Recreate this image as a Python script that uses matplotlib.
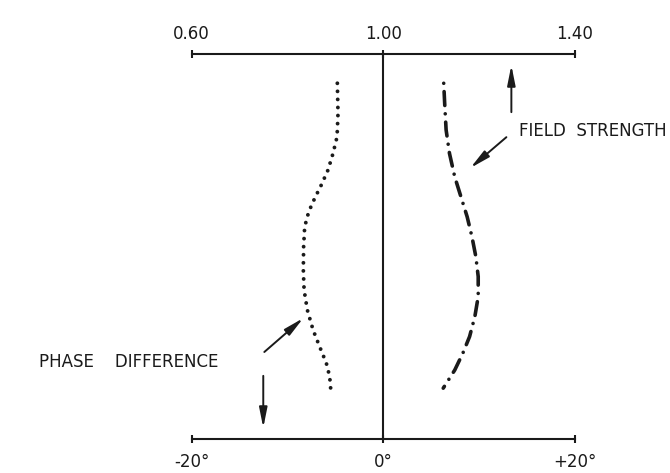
import matplotlib.pyplot as plt

# phase difference curve (degrees) vs relative height
phase_deg = [-4.80, -4.73, -4.83, -5.25, -5.77, -6.47, -7.17, -7.79, -8.21,
             -8.32, -8.35, -8.27, -7.93, -7.33, -6.65, -5.95, -5.60, -5.50]
phase_y = [0.924, 0.846, 0.785, 0.742, 0.699, 0.660, 0.625, 0.590, 0.551,
           0.499, 0.439, 0.387, 0.335, 0.283, 0.240, 0.197, 0.162, 0.132]

# field strength curve (relative) vs relative height
field_val = [1.126, 1.128, 1.131, 1.138, 1.149, 1.163, 1.175, 1.185, 1.193,
             1.198, 1.198, 1.191, 1.180, 1.166, 1.149, 1.125]
field_y = [0.924, 0.872, 0.803, 0.742, 0.681, 0.625, 0.577, 0.525, 0.474,
           0.422, 0.370, 0.318, 0.266, 0.223, 0.179, 0.132]

phase_ticks = [-20, 0, 20]
phase_labels = ['-20°', '0°', '+20°']
field_ticks = [0.60, 1.00, 1.40]
field_labels = ['0.60', '1.00', '1.40']

plt.rcParams['font.family'] = ['DejaVu Sans']
plt.rcParams['lines.scale_dashes'] = False
ink = '#1a1a1a'
fs = 12

fig = plt.figure(figsize=(6.7, 4.73), dpi=100)
ax = fig.add_axes([0.2861, 0.0719, 0.5721, 0.8139])
ax.set_xlim(-20, 20)
ax.set_ylim(0, 1)
ax2 = ax.twiny()
ax2.set_xlim(0.6, 1.4)

for a in (ax, ax2):
    for s in a.spines.values():
        s.set_visible(False)
    a.set_yticks([])
ax.spines['bottom'].set_visible(True)
ax.spines['bottom'].set_linewidth(1.5)
ax.spines['bottom'].set_color(ink)
ax2.spines['top'].set_visible(True)
ax2.spines['top'].set_linewidth(1.5)
ax2.spines['top'].set_color(ink)

ax.set_xticks(phase_ticks)
ax.set_xticklabels(phase_labels)
ax.tick_params(axis='x', direction='inout', length=6, width=1.5, color=ink,
               pad=7, labelsize=fs, labelcolor=ink)
ax2.set_xticks(field_ticks)
ax2.set_xticklabels(field_labels)
ax2.tick_params(axis='x', direction='inout', length=6, width=1.5, color=ink,
                pad=5, labelsize=fs, labelcolor=ink)

ax.axvline(0, color=ink, lw=1.5)

# dotted phase curve
ax.plot(phase_deg, phase_y, color=ink, lw=2.8,
        linestyle=(0, (0.01, 5.8)), dash_capstyle='round')
# dash-dot field strength curve
ax2.plot(field_val, field_y, color=ink, lw=2.6,
         linestyle=(0, (0.01, 6.0, 10.0, 6.0)), dash_capstyle='round')

arrow = dict(arrowstyle='-|>,head_length=1.0,head_width=0.2',
             color=ink, lw=1.4, mutation_scale=12, shrinkA=0, shrinkB=0)
ax.annotate('', xy=(13.36, 0.971), xytext=(13.36, 0.849), arrowprops=arrow)
ax.annotate('', xy=(9.08, 0.704), xytext=(12.84, 0.784), arrowprops=arrow)
ax.annotate('', xy=(-8.35, 0.314), xytext=(-12.42, 0.226), arrowprops=arrow)
ax.annotate('', xy=(-12.53, 0.029), xytext=(-12.53, 0.164), arrowprops=arrow)

ax.text(14.2, 0.80, 'FIELD  STRENGTH', fontsize=fs, color=ink,
        va='center', ha='left', clip_on=False)
ax.text(-35.9, 0.20, 'PHASE    DIFFERENCE', fontsize=fs, color=ink,
        va='center', ha='left', clip_on=False)

plt.savefig('out.png', dpi=100)
